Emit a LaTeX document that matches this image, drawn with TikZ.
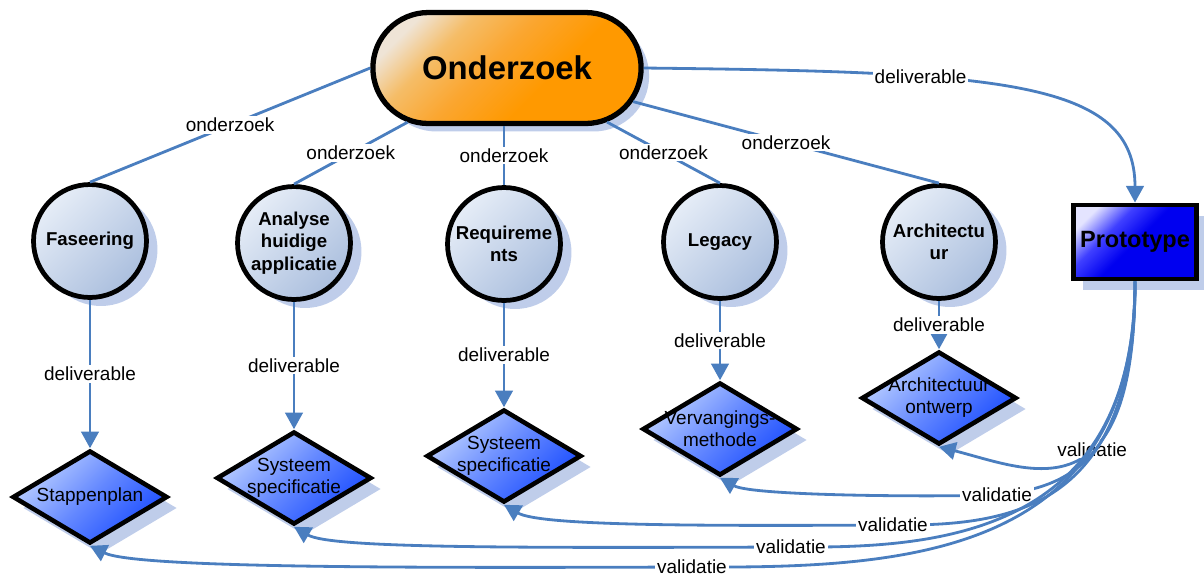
\documentclass[tikz,border=0pt]{standalone}
\usepackage{fontspec}
\setmainfont{Liberation Sans}
\usetikzlibrary{shapes.geometric,shapes.misc,shadows,arrows.meta}

\definecolor{lineblue}{HTML}{4A7EBF}
\definecolor{shadowblue}{HTML}{BFCDEA}
\definecolor{circlight}{HTML}{E6EDF7}
\definecolor{circdark}{HTML}{ABBFDE}
\definecolor{dialight}{HTML}{BCD0FF}
\definecolor{diamid}{HTML}{6488FF}
\definecolor{diadark}{HTML}{1A4CFF}
\definecolor{orlight}{HTML}{EFE4D6}
\definecolor{orpale}{HTML}{F5BD68}
\definecolor{ormid}{HTML}{FBA630}
\definecolor{ordark}{HTML}{FF9900}
\definecolor{prlight}{HTML}{E4E4FF}
\definecolor{prmid}{HTML}{4040FF}
\definecolor{prdark}{HTML}{0000F0}

% diagonal fills: dark towards bottom right, pale in the top left corner
\pgfdeclareverticalshading{hubshade}{100bp}{color(0bp)=(ordark); color(40bp)=(ordark);
  color(54bp)=(ormid); color(66bp)=(orpale); color(76bp)=(orlight); color(100bp)=(orlight)}
\pgfdeclareverticalshading{protoshade}{100bp}{color(0bp)=(prdark); color(50bp)=(prdark);
  color(63bp)=(prmid); color(76bp)=(prlight); color(100bp)=(prlight)}

\begin{document}
\begin{tikzpicture}[x=0.02cm,y=0.02cm,
  link/.style={draw=lineblue, line width=1.6pt},
  arrowlink/.style={link, -{Triangle[length=9.5pt,width=10pt]}},
  elab/.style={fill=white, inner sep=1pt, font=\fontsize{10.8}{12}\selectfont},
  topic/.style={circle, draw, line width=2.7pt, minimum size=2.26cm, inner sep=0pt,
    align=center, font=\bfseries\fontsize{10.6}{12.8}\selectfont,
    top color=circlight, bottom color=circdark, shading angle=45,
    drop shadow={shadow xshift=0.22cm, shadow yshift=-0.17cm, fill=shadowblue, opacity=1}},
  product/.style={diamond, draw, line width=2.6pt, minimum width=3.1cm, minimum height=1.86cm,
    inner sep=0pt, top color=dialight, bottom color=diadark, middle color=diamid, shading angle=45,
    drop shadow={shadow xshift=0.2cm, shadow yshift=-0.22cm, fill=shadowblue, opacity=1}},
  ptext/.style={align=center, font=\fontsize{10.8}{12.6}\selectfont},
  hub/.style={rounded rectangle, draw, line width=3pt, minimum width=5.6cm, minimum height=2.22cm,
    font=\bfseries\fontsize{18.7}{22}\selectfont,
    shading=hubshade, shading angle=45,
    drop shadow={shadow xshift=0.16cm, shadow yshift=-0.16cm, fill=shadowblue, opacity=1}},
  proto/.style={rectangle, draw, line width=2.8pt, minimum width=2.46cm, minimum height=1.48cm,
    font=\bfseries\fontsize{13.4}{16}\selectfont,
    shading=protoshade, shading angle=45,
    drop shadow={shadow xshift=0.18cm, shadow yshift=-0.22cm, fill=shadowblue, opacity=1}}
]
\useasboundingbox (0,0) rectangle (1204,-576);

% central research node and the prototype
\node[hub] (ond) at (507,-68) {Onderzoek};
\node[proto] (pro) at (1135,-242) {Prototype};

% research topics
\node[topic] (fas) at (90,-241) {Faseering};
\node[topic] (ana) at (294,-243) {Analyse\\huidige\\applicatie};
\node[topic] (req) at (504,-244) {Requireme\\nts};
\node[topic] (leg) at (720,-242) {Legacy};
\node[topic] (arc) at (939,-242) {Architectu\\ur};

% deliverables
\node[product, label={[ptext]center:Stappenplan}] (stp) at (90,-497) {};
\node[product, label={[ptext]center:Systeem\\specificatie}] (ss1) at (294,-478) {};
\node[product, label={[ptext]center:Systeem\\specificatie}] (ss2) at (504,-456) {};
\node[product, label={[ptext]center:Vervangings-\\methode}] (ver) at (720,-429) {};
\node[product, label={[ptext]center:Architectuur\\ontwerp}] (aro) at (939,-398) {};

% research links
\draw[link] (ond.west) -- node[elab] (o1) {onderzoek} (fas.north);
\draw[link] (ond) -- node[elab] (o2) {onderzoek} (ana.north);
\draw[link] (req.north |- ond.south) -- node[elab] (o3) {onderzoek} (req.north);
\draw[link] (ond) -- node[elab] (o4) {onderzoek} (leg.north);
\draw[link] (ond) -- node[elab] (o5) {onderzoek} (arc.north);

% deliverable links
\draw[arrowlink] (ond.east) .. controls (1000,-72) and (1135,-80) .. node[elab,pos=0.32] (d0) {deliverable} (pro.north);
\draw[arrowlink] (fas) -- node[elab] (d1) {deliverable} (stp);
\draw[arrowlink] (ana) -- node[elab] (d2) {deliverable} (ss1);
\draw[arrowlink] (req) -- node[elab] (d3) {deliverable} (ss2);
\draw[arrowlink] (leg) -- node[elab] (d4) {deliverable} (ver);
\draw[arrowlink] (arc) -- node[elab] (d5) {deliverable} (aro);

% validation links back from the prototype
\coordinate (w1) at (997,-495);
\coordinate (w2) at (893,-525);
\coordinate (w3) at (791,-547);
\coordinate (w4) at (692,-567);
\draw[arrowlink] (pro.south) .. controls (1135,-520) and (1030,-470) .. node[elab,pos=0.4] (v0) {validatie} (aro.south);
\draw[arrowlink] (pro.south) .. controls (1135,-470) and (1060,-488) .. (w1) node[elab] (v1) {validatie}
  .. controls (930,-497) and (752,-496) .. (ver.south);
\draw[arrowlink] (pro.south) .. controls (1135,-510) and (1010,-526) .. (w2) node[elab] (v2) {validatie}
  .. controls (700,-526) and (540,-526) .. (ss2.south);
\draw[arrowlink] (pro.south) .. controls (1135,-540) and (930,-548) .. (w3) node[elab] (v3) {validatie}
  .. controls (500,-548) and (330,-548) .. (ss1.south);
\draw[arrowlink] (pro.south) .. controls (1135,-560) and (900,-568) .. (w4) node[elab] (v4) {validatie}
  .. controls (400,-568) and (135,-568) .. (stp.south);
\end{tikzpicture}
\end{document}
